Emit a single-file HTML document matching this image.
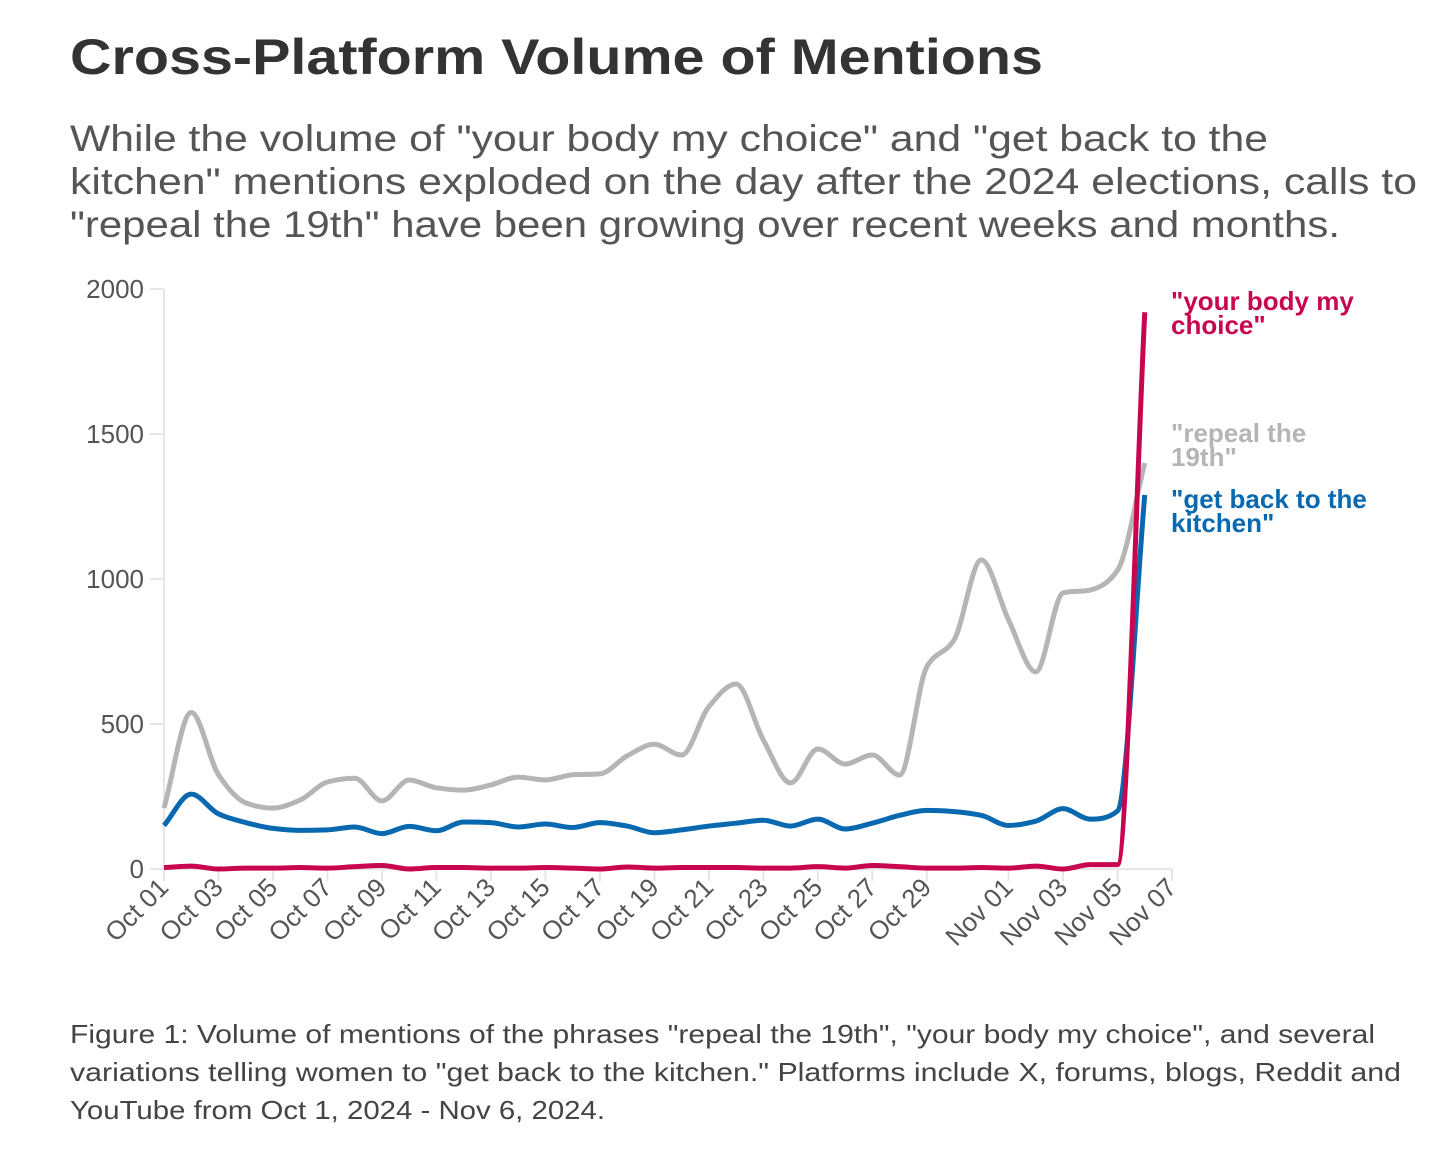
<!DOCTYPE html>
<html><head><meta charset="utf-8"><style>
html,body{margin:0;padding:0;background:#fff;}
svg{display:block;font-family:"Liberation Sans",sans-serif;}
</style></head><body>
<svg id="chart" width="1444" height="1170" viewBox="0 0 1444 1170">
<text x="70" y="74" font-size="50" font-weight="bold" fill="#333" textLength="973" lengthAdjust="spacingAndGlyphs">Cross-Platform Volume of Mentions</text>
<g font-size="37" fill="#555">
<text x="70" y="151" textLength="1198" lengthAdjust="spacingAndGlyphs">While the volume of "your body my choice" and "get back to the</text>
<text x="70" y="194" textLength="1347" lengthAdjust="spacingAndGlyphs">kitchen" mentions exploded on the day after the 2024 elections, calls to</text>
<text x="70" y="237" textLength="1270" lengthAdjust="spacingAndGlyphs">"repeal the 19th" have been growing over recent weeks and months.</text>
</g>
<g id="axes"></g>
<g id="lines"></g>
<g font-size="26" font-weight="bold">
<text x="1171" y="310" fill="#c8064f">"your body my</text>
<text x="1171" y="334" fill="#c8064f">choice"</text>
<text x="1171" y="442" fill="#b5b5b5">"repeal the</text>
<text x="1171" y="466" fill="#b5b5b5">19th"</text>
<text x="1171" y="508" fill="#0868b0">"get back to the</text>
<text x="1171" y="532" fill="#0868b0">kitchen"</text>
</g>
<g font-size="26" fill="#444">
<text x="70" y="1043" textLength="1305" lengthAdjust="spacingAndGlyphs">Figure 1: Volume of mentions of the phrases "repeal the 19th", "your body my choice", and several</text>
<text x="70" y="1081" textLength="1331" lengthAdjust="spacingAndGlyphs">variations telling women to "get back to the kitchen." Platforms include X, forums, blogs, Reddit and</text>
<text x="70" y="1119" textLength="535" lengthAdjust="spacingAndGlyphs">YouTube from Oct 1, 2024 - Nov 6, 2024.</text>
</g>
</svg>
<script>
const yTicks = [0, 500, 1000, 1500, 2000];
const xTickLabels = ["Oct 01","Oct 03","Oct 05","Oct 07","Oct 09","Oct 11","Oct 13","Oct 15","Oct 17","Oct 19","Oct 21","Oct 23","Oct 25","Oct 27","Oct 29","Nov 01","Nov 03","Nov 05","Nov 07"];
const xTickDays = [0,2,4,6,8,10,12,14,16,18,20,22,24,26,28,31,33,35,37];
const repeal19th = [210,540,325,228,210,238,300,313,235,307,280,272,290,317,307,325,328,390,430,393,560,638,445,297,414,362,393,324,697,790,1066,859,680,952,962,1030,1400];
const getBackKitchen = [150,258,190,160,140,133,135,145,122,147,132,162,160,145,155,143,160,148,125,135,148,158,168,148,172,138,158,185,202,198,185,150,165,208,172,200,1290];
const yourBodyChoice = [5,10,0,3,3,5,3,8,12,0,5,5,3,3,5,3,0,7,3,5,5,5,3,3,8,3,12,8,3,3,5,3,10,0,15,15,5,1920].slice(0,36).concat([1920]);

const NS = "http://www.w3.org/2000/svg";
const X0 = 164, X1 = 1172, Y0 = 869, Y1 = 289;
const xs = d => X0 + (X1 - X0) * d / 37;
const ys = v => Y0 - (Y0 - Y1) * v / 2000;
function mk(tag, attrs, parent){ const e = document.createElementNS(NS, tag); for (const k in attrs) e.setAttribute(k, attrs[k]); parent.appendChild(e); return e; }

const axes = document.getElementById('axes');
mk('line', {x1:X0, x2:X0, y1:Y1, y2:Y0, stroke:'#e6e6e6', 'stroke-width':2}, axes);
mk('line', {x1:X0, x2:X1, y1:Y0, y2:Y0, stroke:'#e6e6e6', 'stroke-width':2}, axes);
yTicks.forEach(t => {
  mk('line', {x1:X0-14, x2:X0, y1:ys(t), y2:ys(t), stroke:'#e6e6e6', 'stroke-width':2}, axes);
  const tx = mk('text', {x:X0-20, y:ys(t)+9, 'text-anchor':'end', 'font-size':26, fill:'#555'}, axes);
  
  
  tx.textContent = t;
});
xTickLabels.forEach((lab, i) => {
  const x = xs(xTickDays[i]);
  mk('line', {x1:x, x2:x, y1:Y0, y2:Y0+12, stroke:'#e6e6e6', 'stroke-width':2}, axes);
  const tx = mk('text', {x:x+6, y:Y0+20, 'text-anchor':'end', 'font-size':26, fill:'#555', transform:`rotate(-45 ${x+6} ${Y0+20})`}, axes);
  
  
  tx.textContent = lab;
});

function monotonePath(pts){
  const n = pts.length, m = [], d = [];
  for (let i=0;i<n-1;i++) d.push((pts[i+1][1]-pts[i][1])/(pts[i+1][0]-pts[i][0]));
  m[0]=d[0]; m[n-1]=d[n-2];
  for (let i=1;i<n-1;i++){ m[i] = (d[i-1]*d[i] <= 0) ? 0 : 3*(d[i-1]+d[i]) / ( (2*d[i]+d[i-1])/d[i] + (d[i]+2*d[i-1])/d[i-1] ) ; }
  let s = `M${pts[0][0]},${pts[0][1]}`;
  for (let i=0;i<n-1;i++){ const h=(pts[i+1][0]-pts[i][0])/3;
    s += `C${pts[i][0]+h},${pts[i][1]+m[i]*h} ${pts[i+1][0]-h},${pts[i+1][1]-m[i+1]*h} ${pts[i+1][0]},${pts[i+1][1]}`; }
  return s;
}
const lines = document.getElementById('lines');
[[repeal19th,'#b5b5b5','line-repeal-19th'],[getBackKitchen,'#0868b0','line-get-back-kitchen'],[yourBodyChoice,'#c8064f','line-your-body-my-choice']].forEach(([arr,col,name]) => {
  const p = mk('path', {d: monotonePath(arr.map((v,i)=>[xs(i), ys(v)])), fill:'none', stroke:col, 'stroke-width':5, 'stroke-linejoin':'round'}, lines);
  
  
});
</script>
</body></html>
